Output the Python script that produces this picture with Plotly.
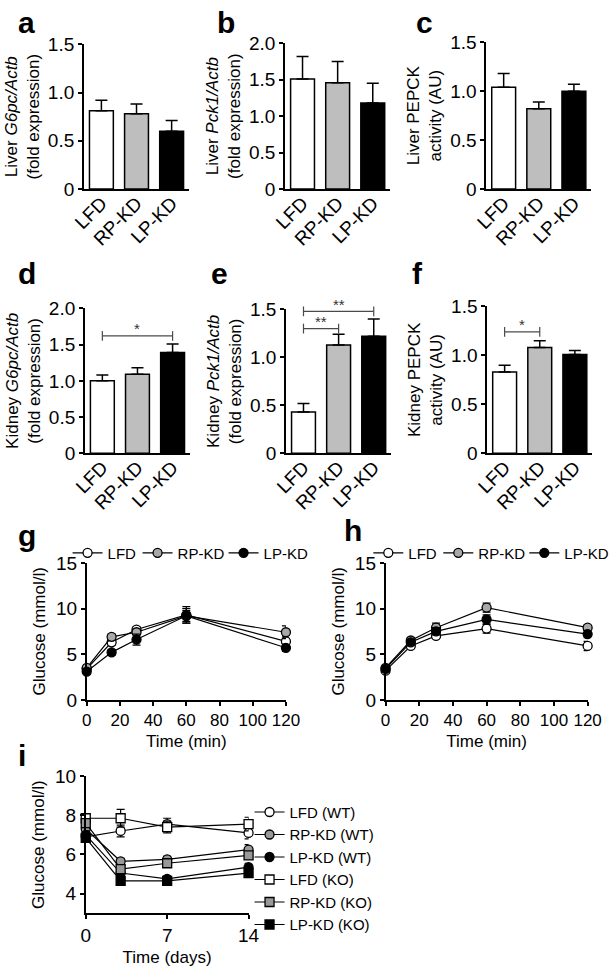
import plotly.graph_objects as go

W, H = 616, 977
FONT = "Arial, 'Liberation Sans', Helvetica, sans-serif"

# ---------------- data ----------------
groups = ["LFD", "RP-KD", "LP-KD"]
group_fill = ["#ffffff", "#bebebe", "#000000"]

liver_g6pc = [0.81, 0.78, 0.60]
liver_g6pc_err = [0.11, 0.10, 0.11]
liver_pck1 = [1.51, 1.46, 1.18]
liver_pck1_err = [0.31, 0.29, 0.27]
liver_pepck = [1.04, 0.82, 1.00]
liver_pepck_err = [0.14, 0.07, 0.07]
kidney_g6pc = [1.00, 1.09, 1.39]
kidney_g6pc_err = [0.08, 0.09, 0.12]
kidney_pck1 = [0.43, 1.13, 1.22]
kidney_pck1_err = [0.09, 0.11, 0.18]
kidney_pepck = [0.83, 1.08, 1.01]
kidney_pepck_err = [0.07, 0.07, 0.04]

# significance brackets: (group from, group to, bracket height, label)
kidney_g6pc_sig = [("LFD", "LP-KD", 1.62, "*")]
kidney_pck1_sig = [("LFD", "RP-KD", 1.30, "**"), ("LFD", "LP-KD", 1.48, "**")]
kidney_pepck_sig = [("LFD", "RP-KD", 1.24, "*")]

ticks_15 = [0, 0.5, 1.0, 1.5]
ticks_15_text = ["0", "0.5", "1.0", "1.5"]
ticks_20 = [0, 0.5, 1.0, 1.5, 2.0]
ticks_20_text = ["0", "0.5", "1.0", "1.5", "2.0"]

gtt_time = [0, 15, 30, 60, 120]
gtt_ticks = [0, 20, 40, 60, 80, 100, 120]
glucose_ticks = [0, 5, 10, 15]

g_lfd = [3.4, 6.3, 7.7, 9.3, 6.4]
g_lfd_err = [0.3, 0.3, 0.3, 0.9, 0.5]
g_rp = [3.5, 6.9, 7.4, 9.2, 7.4]
g_rp_err = [0.3, 0.3, 0.3, 0.8, 0.7]
g_lp = [3.1, 5.2, 6.6, 9.2, 5.7]
g_lp_err = [0.3, 0.3, 0.6, 0.6, 0.4]

h_lfd = [3.2, 5.9, 7.0, 7.8, 5.9]
h_lfd_err = [0.3, 0.3, 0.3, 0.5, 0.5]
h_rp = [3.5, 6.5, 7.9, 10.1, 7.9]
h_rp_err = [0.3, 0.3, 0.5, 0.5, 0.3]
h_lp = [3.4, 6.3, 7.5, 8.8, 7.2]
h_lp_err = [0.3, 0.3, 0.4, 0.5, 0.4]

days = [0, 3, 7, 14]
days_ticks = [0, 7, 14]
i_ticks = [4, 6, 8, 10]
i_names = ["LFD (WT)", "RP-KD (WT)", "LP-KD (WT)", "LFD (KO)", "RP-KD (KO)", "LP-KD (KO)"]
i_lfd_wt = [6.9, 7.2, 7.55, 7.1]
i_lfd_wt_err = [0.2, 0.3, 0.3, 0.3]
i_rp_wt = [7.3, 5.65, 5.75, 6.25]
i_rp_wt_err = [0.2, 0.15, 0.15, 0.25]
i_lp_wt = [7.0, 5.05, 4.75, 5.35]
i_lp_wt_err = [0.2, 0.15, 0.15, 0.2]
i_lfd_ko = [7.85, 7.85, 7.4, 7.55]
i_lfd_ko_err = [0.15, 0.45, 0.3, 0.35]
i_rp_ko = [7.6, 5.25, 5.55, 5.95]
i_rp_ko_err = [0.2, 0.15, 0.15, 0.2]
i_lp_ko = [6.85, 4.65, 4.65, 5.05]
i_lp_ko_err = [0.15, 0.15, 0.15, 0.15]


# ---------------- helpers ----------------
def xd(left, right):
    return [left / W, right / W]


def yd(top, bottom):
    return [1 - bottom / H, 1 - top / H]


def ax_style(**kw):
    base = dict(
        showline=True, linecolor="black", linewidth=1.5,
        ticks="outside", ticklen=4, tickwidth=1.5, tickcolor="black",
        showgrid=False, zeroline=False,
        tickfont=dict(size=19, color="black", family=FONT),
        title_font=dict(size=17, color="black", family=FONT),
    )
    base.update(kw)
    return base


def letter_ann(letter, x, y):
    return dict(
        x=x / W, y=1 - y / H, xref="paper", yref="paper",
        text=f"<b>{letter}</b>", showarrow=False, xanchor="left", yanchor="middle",
        font=dict(size=30, color="black", family=FONT),
    )


SIG_COLOR = "#4a4a4a"

fig = go.Figure()
layout = {}
annotations = []

bar_panels = [
    ("a", liver_g6pc, liver_g6pc_err, ticks_15, ticks_15_text,
     "Liver <i>G6pc/Actb</i><br>(fold expression)", [], (75, 185, 35, 183), (4, 13)),
    ("b", liver_pck1, liver_pck1_err, ticks_20, ticks_20_text,
     "Liver <i>Pck1/Actb</i><br>(fold expression)", [], (285, 395, 34, 183), (212, 13)),
    ("c", liver_pepck, liver_pepck_err, ticks_15, ticks_15_text,
     "Liver PEPCK<br>activity (AU)", [], (495, 605, 33, 183), (420, 13)),
    ("d", kidney_g6pc, kidney_g6pc_err, ticks_20, ticks_20_text,
     "Kidney <i>G6pc/Actb</i><br>(fold expression)", kidney_g6pc_sig, (76, 186, 305, 453), (4, 269)),
    ("e", kidney_pck1, kidney_pck1_err, ticks_15, ticks_15_text,
     "Kidney <i>Pck1/Actb</i><br>(fold expression)", kidney_pck1_sig, (286, 396, 306, 453), (206, 269)),
    ("f", kidney_pepck, kidney_pepck_err, ticks_15, ticks_15_text,
     "Kidney PEPCK<br>activity (AU)", kidney_pepck_sig, (496, 606, 303, 453), (416, 269)),
]

for k, (letter, vals, errs, tv, tt, ytitle, sigs, box, lpos) in enumerate(bar_panels, start=1):
    xa = "x" if k == 1 else f"x{k}"
    ya = "y" if k == 1 else f"y{k}"
    l, r, t, b = box
    fig.add_trace(go.Bar(
        x=groups, y=vals, xaxis=xa, yaxis=ya, width=0.68,
        marker=dict(color=group_fill, line=dict(color="black", width=1.5)),
        error_y=dict(type="data", array=errs, arrayminus=[0] * len(errs), symmetric=False,
                     color="black", thickness=1.5, width=6),
        showlegend=False, hoverinfo="skip",
    ))
    for g1, g2, hgt, lab in sigs:
        fig.add_trace(go.Scatter(
            x=[g1, g2], y=[hgt, hgt], xaxis=xa, yaxis=ya, mode="lines+markers",
            line=dict(color=SIG_COLOR, width=1.2),
            marker=dict(symbol="line-ns", size=7, color=SIG_COLOR,
                        line=dict(color=SIG_COLOR, width=1.2)),
            showlegend=False, hoverinfo="skip", cliponaxis=False,
        ))
        annotations.append(dict(
            x=(groups.index(g1) + groups.index(g2)) / 2, y=hgt, xref=xa, yref=ya,
            text=lab, showarrow=False, yanchor="middle", yshift=7,
            font=dict(size=15, color="#333333", family=FONT),
        ))
    suffix = "" if k == 1 else str(k)
    layout["xaxis" + suffix] = ax_style(
        domain=xd(l, r), anchor=ya, range=[-0.5, 2.5], ticks="", tickangle=-45,
        type="category", categoryorder="array", categoryarray=groups,
        ticklabelstandoff=-6,
    )
    layout["yaxis" + suffix] = ax_style(
        domain=yd(t, b), anchor=xa, range=[0, tv[-1]], tickvals=tv, ticktext=tt,
        title=dict(text=ytitle, standoff=4),
    )
    annotations.append(letter_ann(letter, *lpos))

# ---------------- GTT panels g, h ----------------
fills = ["white", "#a8a8a8", "black"]
legend_item_w = [25, 41, 44]
line_panels = [
    ("g", 7, [(g_lfd, g_lfd_err), (g_rp, g_rp_err), (g_lp, g_lp_err)], (78, 286, 565, 705), (4, 537), "legend", 58),
    ("h", 8, [(h_lfd, h_lfd_err), (h_rp, h_rp_err), (h_lp, h_lp_err)], (390, 601, 565, 705), (345, 532), "legend2", 372),
]
for letter, k, series, box, lpos, leg, legx in line_panels:
    xa, ya = f"x{k}", f"y{k}"
    l, r, t, b = box
    for name, (vals, errs), fc, lw in zip(groups, series, fills, legend_item_w):
        fig.add_trace(go.Scatter(
            x=gtt_time, y=vals, xaxis=xa, yaxis=ya, name=name, mode="lines+markers",
            line=dict(color="black", width=1.2),
            marker=dict(symbol="circle", size=9, color=fc, line=dict(color="black", width=1.3)),
            error_y=dict(type="data", array=errs, color="black", thickness=1.2, width=4),
            legend=leg, legendwidth=lw, cliponaxis=False, hoverinfo="skip",
        ))
    layout[f"xaxis{k}"] = ax_style(
        domain=xd(l, r), anchor=ya, range=[0, 120], tickvals=gtt_ticks,
        tickfont=dict(size=17, color="black", family=FONT),
        title=dict(text="Time (min)", standoff=6),
    )
    layout[f"yaxis{k}"] = ax_style(
        domain=yd(t, b), anchor=xa, range=[0, 15], tickvals=glucose_ticks,
        title=dict(text="Glucose (mmol/l)", standoff=6),
    )
    layout[leg] = dict(
        orientation="h", x=legx / W, y=1 - 555 / H, xanchor="left", yanchor="middle",
        font=dict(size=15, color="black", family=FONT), bgcolor="rgba(0,0,0,0)",
        itemwidth=30, tracegroupgap=0,
    )
    annotations.append(letter_ann(letter, *lpos))

# ---------------- panel i ----------------
i_series = [
    (i_lfd_wt, i_lfd_wt_err, "circle", "white"),
    (i_rp_wt, i_rp_wt_err, "circle", "#999999"),
    (i_lp_wt, i_lp_wt_err, "circle", "black"),
    (i_lfd_ko, i_lfd_ko_err, "square", "white"),
    (i_rp_ko, i_rp_ko_err, "square", "#999999"),
    (i_lp_ko, i_lp_ko_err, "square", "black"),
]
for name, (vals, errs, sym, fc) in zip(i_names, i_series):
    fig.add_trace(go.Scatter(
        x=days, y=vals, xaxis="x9", yaxis="y9", name=name, mode="lines+markers",
        line=dict(color="black", width=1.2),
        marker=dict(symbol=sym, size=9, color=fc, line=dict(color="black", width=1.3)),
        error_y=dict(type="data", array=errs, color="black", thickness=1.2, width=4),
        legend="legend3", cliponaxis=False, hoverinfo="skip",
    ))
layout["xaxis9"] = ax_style(
    domain=xd(77, 247), anchor="y9", range=[0, 14], tickvals=days_ticks,
    title=dict(text="Time (days)", standoff=6),
)
layout["yaxis9"] = ax_style(
    domain=yd(783, 923), anchor="x9", range=[3, 10], tickvals=i_ticks,
    title=dict(text="Glucose (mmol/l)", standoff=6),
)
layout["legend3"] = dict(
    orientation="v", x=248 / W, y=1 - 803 / H, xanchor="left", yanchor="top",
    font=dict(size=15, color="black", family=FONT), bgcolor="rgba(0,0,0,0)",
    itemwidth=30, tracegroupgap=0,
)
annotations.append(letter_ann("i", 4, 762))

fig.update_layout(
    width=W, height=H, margin=dict(l=0, r=0, t=0, b=0),
    paper_bgcolor="white", plot_bgcolor="white",
    font=dict(family=FONT, color="black"),
    annotations=annotations, showlegend=True, bargap=0.3,
    **layout,
)

fig.write_html(
    "out.html",
    config={"displayModeBar": False},
    post_script="document.body.style.margin='0px';",
)
